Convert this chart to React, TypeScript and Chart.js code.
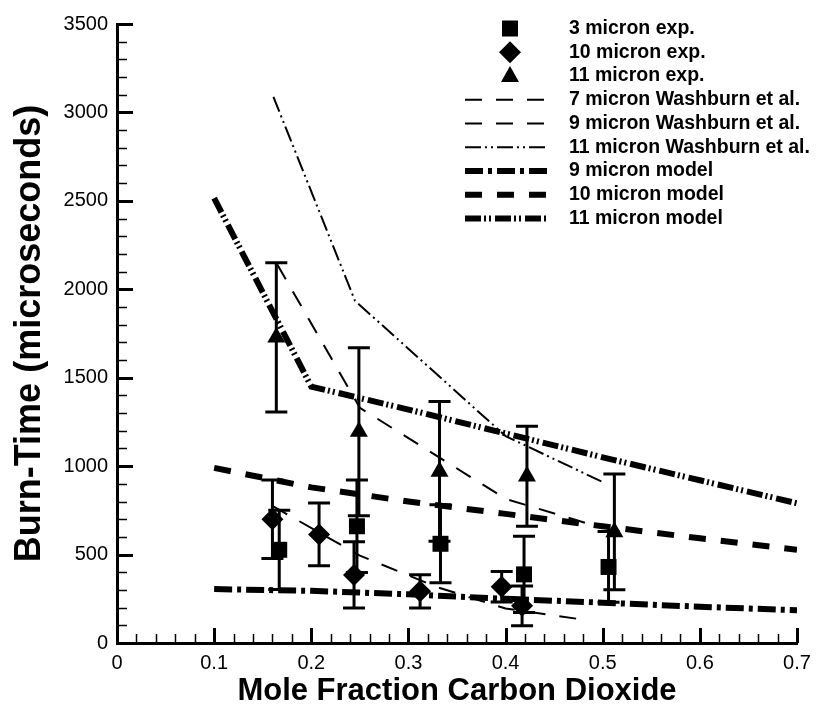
import React, { useEffect, useRef } from 'react';
import { Chart, registerables } from 'chart.js';

Chart.register(...registerables);

// ---- experimental data (x = mole fraction CO2, y = burn time µs, err = half error bar)
const sq3X = [0.167, 0.247, 0.333, 0.419, 0.506];
const sq3Y = [527, 660, 561, 388, 430];
const sq3Err = [224, 262, 221, 215, 200];

const dia10X = [0.16, 0.208, 0.244, 0.312, 0.396, 0.417];
const dia10Y = [700, 614, 385, 292, 318, 210];
const dia10Err = [222, 177, 187, 94, 86, 112];

const tri11X = [0.164, 0.249, 0.332, 0.422, 0.512];
const tri11Y = [1728, 1195, 970, 943, 628];
const tri11Err = [422, 475, 395, 283, 327];

// ---- Washburn et al. curves
const wash7X = [0.16, 0.25, 0.33, 0.4, 0.48];
const wash7Y = [775, 494, 315, 195, 132];
const wash9X = [0.165, 0.25, 0.4, 0.5];
const wash9Y = [2140, 1330, 815, 650];
const wash11X = [0.161, 0.245, 0.4, 0.5];
const wash11Y = [3088, 1935, 1170, 910];

// ---- model curves
const modelX = [0.1, 0.2, 0.3, 0.4, 0.5, 0.6, 0.7];
const model9 = [305, 295, 275, 250, 228, 205, 185];
const model10 = [990, 880, 800, 730, 660, 592, 527];
const model11 = [2515, 1450, 1320, 1185, 1050, 920, 790];

// ---- axis ticks
const xTickMax = 0.7;
const yTickMax = 3500;

const legendLabels = [
  '3 micron exp.',
  '10 micron exp.',
  '11 micron exp.',
  '7 micron Washburn et al.',
  '9 micron Washburn et al.',
  '11 micron Washburn et al.',
  '9 micron model',
  '10 micron model',
  '11 micron model',
];

const FONT = "'Liberation Sans', Arial, Helvetica, sans-serif";

const pts = (xs: number[], ys: number[]) => xs.map((x, i) => ({ x, y: ys[i] }));

const DASH_WASH = [17, 14];
const DASH_WASH11 = [16, 4, 2, 4, 2, 4];
const DASH_M9 = [18, 5, 4, 5];
const DASH_M10 = [17, 15];
const DASH_M11 = [16, 3, 2, 3, 2, 4];

function drawMarker(ctx: CanvasRenderingContext2D, kind: string, x: number, y: number) {
  ctx.beginPath();
  if (kind === 'rect') {
    ctx.rect(x - 8, y - 8, 16, 16);
  } else if (kind === 'rectRot') {
    ctx.moveTo(x, y - 11);
    ctx.lineTo(x + 11, y);
    ctx.lineTo(x, y + 11);
    ctx.lineTo(x - 11, y);
    ctx.closePath();
  } else {
    ctx.moveTo(x, y - 10);
    ctx.lineTo(x + 9, y + 6);
    ctx.lineTo(x - 9, y + 6);
    ctx.closePath();
  }
  ctx.fill();
}

const errorBarPlugin = {
  id: 'errorBars',
  beforeDatasetsDraw(chart: any) {
    const { ctx, scales } = chart;
    const xs = scales.x;
    const ys = scales.y;
    ctx.save();
    ctx.strokeStyle = '#000';
    ctx.lineWidth = 3;
    chart.data.datasets.forEach((ds: any) => {
      if (!ds.errors) return;
      ds.data.forEach((p: any, i: number) => {
        const e = ds.errors[i];
        const px = xs.getPixelForValue(p.x);
        const top = ys.getPixelForValue(p.y + e);
        const bot = ys.getPixelForValue(p.y - e);
        ctx.beginPath();
        ctx.moveTo(px, top);
        ctx.lineTo(px, bot);
        ctx.moveTo(px - 11, top);
        ctx.lineTo(px + 11, top);
        ctx.moveTo(px - 11, bot);
        ctx.lineTo(px + 11, bot);
        ctx.stroke();
      });
    });
    ctx.restore();
  },
};

const innerTicksPlugin = {
  id: 'innerTicks',
  afterDraw(chart: any) {
    const { ctx, scales, chartArea } = chart;
    const xs = scales.x;
    const ys = scales.y;
    ctx.save();
    ctx.strokeStyle = '#000';
    for (let i = 0; i <= yTickMax / 100; i++) {
      const v = i * 100;
      const py = Math.round(ys.getPixelForValue(v)) + 0.5;
      const major = i % 5 === 0;
      ctx.lineWidth = major ? 3 : 1.5;
      ctx.beginPath();
      ctx.moveTo(chartArea.left, py);
      ctx.lineTo(chartArea.left + (major ? 16 : 10), py);
      ctx.stroke();
    }
    const nx = Math.round(xTickMax / 0.02);
    for (let i = 0; i <= nx; i++) {
      const v = i * 0.02;
      const px = Math.round(xs.getPixelForValue(v)) + 0.5;
      const major = i % 5 === 0;
      ctx.lineWidth = major ? 3 : 1.5;
      ctx.beginPath();
      ctx.moveTo(px, chartArea.bottom);
      ctx.lineTo(px, chartArea.bottom - (major ? 15 : 9));
      ctx.stroke();
    }
    ctx.restore();
  },
};

const legendPlugin = {
  id: 'customLegend',
  afterDraw(chart: any) {
    const { ctx } = chart;
    const x0 = 465;
    const x1 = 547;
    const xm = 510;
    const xt = 569;
    const y0 = 28.5;
    const dy = 23.75;
    const styles: any[] = [
      { m: 'rect' },
      { m: 'rectRot' },
      { m: 'triangle' },
      { d: DASH_WASH, w: 2 },
      { d: DASH_WASH, w: 2 },
      { d: DASH_WASH11, w: 2 },
      { d: DASH_M9, w: 6 },
      { d: DASH_M10, w: 6 },
      { d: DASH_M11, w: 6 },
    ];
    ctx.save();
    ctx.fillStyle = '#000';
    ctx.strokeStyle = '#000';
    ctx.font = `bold 19.5px ${FONT}`;
    ctx.textBaseline = 'middle';
    ctx.textAlign = 'left';
    legendLabels.forEach((lab, i) => {
      const y = y0 + i * dy;
      const s = styles[i];
      if (s.m) {
        drawMarker(ctx, s.m, xm, y);
      } else {
        ctx.setLineDash(s.d);
        ctx.lineWidth = s.w;
        ctx.lineCap = 'butt';
        ctx.beginPath();
        ctx.moveTo(x0, y);
        ctx.lineTo(x1, y);
        ctx.stroke();
        ctx.setLineDash([]);
      }
      ctx.fillText(lab, xt, y);
    });
    ctx.restore();
  },
};

export default function App() {
  const ref = useRef<HTMLCanvasElement>(null);

  useEffect(() => {
    if (!ref.current) return;
    const lineDs = (label: string, xs: number[], ys: number[], dash: number[], w: number) => ({
      label,
      data: pts(xs, ys),
      showLine: true,
      borderColor: '#000',
      backgroundColor: '#000',
      borderWidth: w,
      borderDash: dash,
      borderCapStyle: 'butt',
      pointRadius: 0,
      pointHoverRadius: 0,
      tension: 0,
      fill: false,
    });
    const markDs = (label: string, xs: number[], ys: number[], errs: number[], style: string, r: number) => ({
      label,
      data: pts(xs, ys),
      errors: errs,
      showLine: false,
      pointStyle: style,
      pointRadius: r,
      pointHoverRadius: r,
      pointBackgroundColor: '#000',
      pointBorderColor: '#000',
      pointBorderWidth: 0,
      backgroundColor: '#000',
      borderColor: '#000',
    });

    const chart = new Chart(ref.current, {
      type: 'scatter',
      data: {
        datasets: [
          markDs(legendLabels[0], sq3X, sq3Y, sq3Err, 'rect', 11.3),
          markDs(legendLabels[1], dia10X, dia10Y, dia10Err, 'rectRot', 11),
          markDs(legendLabels[2], tri11X, tri11Y, tri11Err, 'triangle', 10.4),
          lineDs(legendLabels[3], wash7X, wash7Y, DASH_WASH, 2),
          lineDs(legendLabels[4], wash9X, wash9Y, DASH_WASH, 2),
          lineDs(legendLabels[5], wash11X, wash11Y, DASH_WASH11, 2),
          lineDs(legendLabels[6], modelX, model9, DASH_M9, 6),
          lineDs(legendLabels[7], modelX, model10, DASH_M10, 6),
          lineDs(legendLabels[8], modelX, model11, DASH_M11, 6),
        ] as any,
      },
      options: {
        responsive: false,
        animation: false,
        events: [],
        layout: { padding: { top: 24, right: 23, left: 0, bottom: 0 } },
        plugins: {
          legend: { display: false },
          tooltip: { enabled: false },
        },
        scales: {
          x: {
            type: 'linear',
            min: 0,
            max: xTickMax,
            grid: { display: false, drawTicks: false },
            border: { display: true, color: '#000', width: 3 },
            ticks: {
              stepSize: 0.1,
              color: '#000',
              font: { family: FONT, size: 20 },
              padding: 8,
              maxRotation: 0,
              callback: (v: any) => String(Math.round(Number(v) * 10) / 10),
            },
            title: {
              display: true,
              text: 'Mole Fraction Carbon Dioxide',
              color: '#000',
              font: { family: FONT, size: 31, weight: 'bold', lineHeight: 1 },
              padding: { top: 0, bottom: 2 },
            },
            afterFit(scale: any) {
              scale.height = 66;
            },
          },
          y: {
            type: 'linear',
            min: 0,
            max: yTickMax,
            grid: { display: false, drawTicks: false },
            border: { display: true, color: '#000', width: 3 },
            ticks: {
              stepSize: 500,
              color: '#000',
              font: { family: FONT, size: 20 },
              padding: 9,
              callback: (v: any) => String(Math.round(Number(v))),
            },
            title: {
              display: true,
              text: 'Burn-Time (microseconds)',
              color: '#000',
              font: { family: FONT, size: 36, weight: 'bold', lineHeight: 1 },
              padding: { top: 12, bottom: 0 },
            },
            afterFit(scale: any) {
              scale.width = 117;
            },
          },
        },
      } as any,
      plugins: [errorBarPlugin, innerTicksPlugin, legendPlugin],
    });
    return () => chart.destroy();
  }, []);

  return (
    <div style={{ position: 'absolute', left: 0, top: 0, width: 820, height: 709, background: '#fff' }}>
      <canvas ref={ref} width={820} height={709} style={{ display: 'block' }} />
    </div>
  );
}
